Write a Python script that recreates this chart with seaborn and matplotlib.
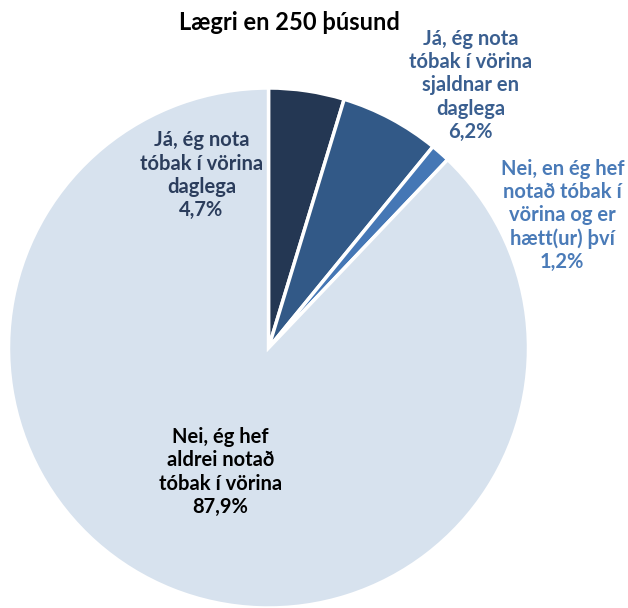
import matplotlib
matplotlib.use("Agg")
import matplotlib.pyplot as plt
import seaborn as sns

# data
categories = [
    "Já, ég nota\ntóbak í vörina\ndaglega",
    "Já, ég nota\ntóbak í vörina\nsjaldnar en\ndaglega",
    "Nei, en ég hef\nnotað tóbak í\nvörina og er\nhætt(ur) því",
    "Nei, ég hef\naldrei notað\ntóbak í vörina",
]
shares = [4.7, 6.2, 1.2, 87.9]
slice_colors = ["#243753", "#325987", "#4577b5", "#d7e2ee"]
label_colors = ["#2b3d5c", "#3a5f90", "#4a7bb8", "#000000"]
label_pos = [(-0.258, 0.665), (0.777, 1.01), (1.13, 0.51), (-0.185, -0.477)]
title = "Lægri en 250 þúsund"

sns.set_theme(style="white")
plt.rcParams["font.family"] = ["Lato", "DejaVu Sans"]

fig = plt.figure(figsize=(6.28, 6.08), dpi=100)
cx, cy, r = 268.5, 348, 260
ax = fig.add_axes([(cx - r) / 628, (608 - cy - r) / 608, 2 * r / 628, 2 * r / 608])

ax.pie(shares, colors=slice_colors, startangle=90, counterclock=False,
       wedgeprops=dict(edgecolor="white", linewidth=2.5))
ax.set_xlim(-1, 1)
ax.set_ylim(-1, 1)
ax.set_aspect("equal")
ax.axis("off")

for cat, val, col, (x, y) in zip(categories, shares, label_colors, label_pos):
    txt = cat + "\n" + f"{val:.1f}".replace(".", ",") + "%"
    ax.text(x, y, txt, ha="center", va="center", color=col, fontsize=14.5,
            fontweight="bold", linespacing=1.2, clip_on=False)

fig.text(289 / 628, 1 - 22 / 608, title, ha="center", va="center",
         fontsize=17, fontweight="bold", color="black")

fig.savefig("out.png", dpi=100)
